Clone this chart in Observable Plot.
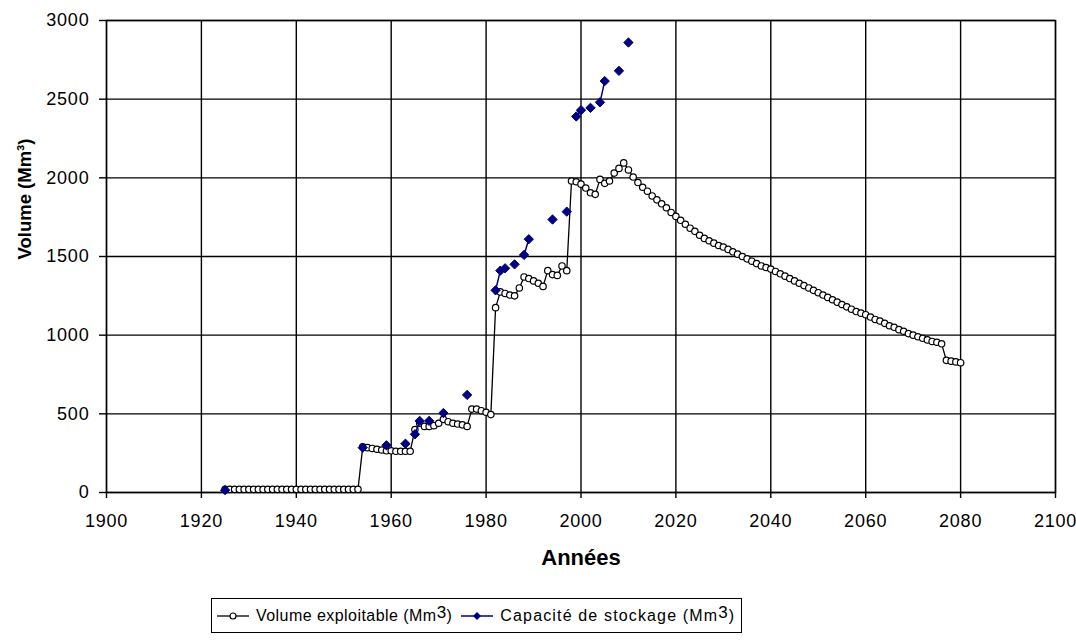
<!DOCTYPE html>
<html><head><meta charset="utf-8">
<script src="https://cdn.jsdelivr.net/npm/d3@7"></script>
<script src="https://cdn.jsdelivr.net/npm/@observablehq/plot@0.6"></script>
<style>
body{margin:0;background:#fff;font-family:"Liberation Sans",Arial,sans-serif;}
#chart{position:relative;width:1076px;height:580px;}
#legend{position:absolute;left:211px;top:598px;width:529px;height:33px;border:1px solid #000;display:flex;align-items:center;font-size:16px;color:#000;white-space:nowrap;}
#legend .sym{display:inline-block;width:34px;height:16px;margin:0 6px 0 4px;}
#legend .item{display:flex;align-items:center;margin-right:4px;}
#legend .item0{letter-spacing:0.45px;}
#legend .item1{letter-spacing:1.15px;}
#legend .sup{position:relative;top:-3px;font-size:17px;}
svg .tick-labels text{letter-spacing:0.8px;}
</style></head><body>
<div id="chart"></div>
<div id="legend"></div>
<script>
// ---- Data ----
const seriesNames = ["Volume exploitable (Mm3)", "Capacité de stockage (Mm3)"];
const xTicks = [1900, 1920, 1940, 1960, 1980, 2000, 2020, 2040, 2060, 2080, 2100];
const yTicks = [0, 500, 1000, 1500, 2000, 2500, 3000];

// Volume exploitable, yearly from 1925 to 2080
const volumeStartYear = 1925;
const volumeValues = [
  // 1925-1953
  20,20,20,20,20,20,20,20,20,20,20,20,20,20,20,20,20,20,20,20,20,20,20,20,20,20,20,20,20,
  // 1954-1964
  290,285,280,275,270,265,265,262,262,262,262,
  // 1965-1976
  400,440,420,420,425,440,465,450,440,435,430,420,
  // 1977-1981
  530,530,520,510,495,
  // 1982-1997
  1175,1275,1265,1255,1250,1300,1370,1360,1345,1330,1310,1410,1385,1380,1440,1410,
  // 1998-2008
  1980,1975,1960,1935,1905,1895,1990,1965,1980,2030,2060,
  // 2009-2080
  2095,2050,2005,1970,1940,1915,1885,1860,1835,1810,1780,
  1755,1730,1705,1680,1660,1635,1615,1600,1585,1570,
  1560,1545,1530,1515,1500,1485,1470,1455,1440,1430,
  1420,1405,1390,1375,1360,1345,1330,1315,1300,1285,
  1270,1255,1240,1225,1210,1195,1180,1165,1150,1140,
  1130,1115,1100,1090,1075,1060,1050,1035,1025,1010,
  1000,990,980,970,960,955,945,840,835,830,825
];

// Capacité de stockage
const capacityYears  = [1925,1954,1959,1963,1965,1966,1968,1971,1976,1982,1983,1984,1986,1988,1989,1994,1997,1999,2000,2002,2004,2005,2008,2010];
const capacityValues = [15,285,300,310,370,455,455,505,620,1285,1410,1425,1450,1510,1610,1735,1785,2390,2430,2445,2480,2615,2680,2860];

// ---- Build tables ----
const volData = volumeValues.map((v, i) => ({year: volumeStartYear + i, value: v}));
const capData = capacityYears.map((y, i) => ({year: y, value: capacityValues[i]}));
// yearly series with gaps (line only joins consecutive years)
const capMap = new Map(capData.map(d => [d.year, d.value]));
const capSeries = d3.range(capacityYears[0], capacityYears[capacityYears.length - 1] + 1)
  .map(y => ({year: y, value: capMap.has(y) ? capMap.get(y) : NaN}));

const navy = "#000080";
const chart = Plot.plot({
  width: 1076, height: 580,
  marginLeft: 106, marginRight: 21, marginTop: 20, marginBottom: 88,
  style: {fontFamily: "'Liberation Sans', Arial, sans-serif", fontSize: "18px", color: "#000", background: "#fff", overflow: "visible"},
  x: {domain: [1900, 2100], label: null},
  y: {domain: [0, 3000], label: null},
  marks: [
    Plot.gridX(xTicks, {stroke: "#000", strokeOpacity: 1, strokeWidth: 1.4}),
    Plot.gridY(yTicks, {stroke: "#000", strokeOpacity: 1, strokeWidth: 1.4}),
    Plot.frame({stroke: "#000", strokeWidth: 1.4}),
    Plot.axisX(xTicks, {tickSize: 6, tickPadding: 16, tickFormat: d => String(d), label: null, strokeWidth: 1.4, className: "tick-labels"}),
    Plot.axisY(yTicks, {tickSize: 7, tickPadding: 10, tickFormat: d => String(d), label: null, strokeWidth: 1.4, className: "tick-labels"}),
    Plot.line(volData, {x: "year", y: "value", stroke: "#000", strokeWidth: 1.3}),
    Plot.dot(volData, {x: "year", y: "value", r: 3.2, fill: "#fff", stroke: "#000", strokeWidth: 1.2}),
    Plot.line(capSeries, {x: "year", y: "value", stroke: navy, strokeWidth: 1.5}),
    Plot.dot(capData, {x: "year", y: "value", symbol: "diamond2", r: 4.2, fill: navy, stroke: navy, strokeWidth: 1}),
    Plot.text(["Années"], {text: d => d, frameAnchor: "bottom", dy: 72, fontWeight: "bold", fontSize: 22}),
    Plot.text(["Volume (Mm³)"], {text: d => d, frameAnchor: "left", dx: -81, dy: 3, rotate: -90, fontWeight: "bold", fontSize: 18.5})
  ]
});
document.getElementById("chart").appendChild(chart);

// ---- Legend ----
const legend = document.getElementById("legend");
const symbols = [
  `<svg class="sym" viewBox="0 0 34 16"><line x1="1" y1="8" x2="33" y2="8" stroke="#000" stroke-width="1.3"/><circle cx="17" cy="8" r="3" fill="#fff" stroke="#000" stroke-width="1.2"/></svg>`,
  `<svg class="sym" viewBox="0 0 34 16"><line x1="1" y1="8" x2="33" y2="8" stroke="${navy}" stroke-width="1.5"/><path d="M17 4 L21 8 L17 12 L13 8 Z" fill="${navy}"/></svg>`
];
seriesNames.forEach((name, i) => {
  const base = name.slice(0, name.lastIndexOf("3"));
  const rest = name.slice(name.lastIndexOf("3") + 1);
  const item = document.createElement("div");
  item.className = "item item" + i;
  item.innerHTML = symbols[i] + `<span>${base}<span class="sup">3</span>${rest}</span>`;
  legend.appendChild(item);
});
</script>
</body></html>
